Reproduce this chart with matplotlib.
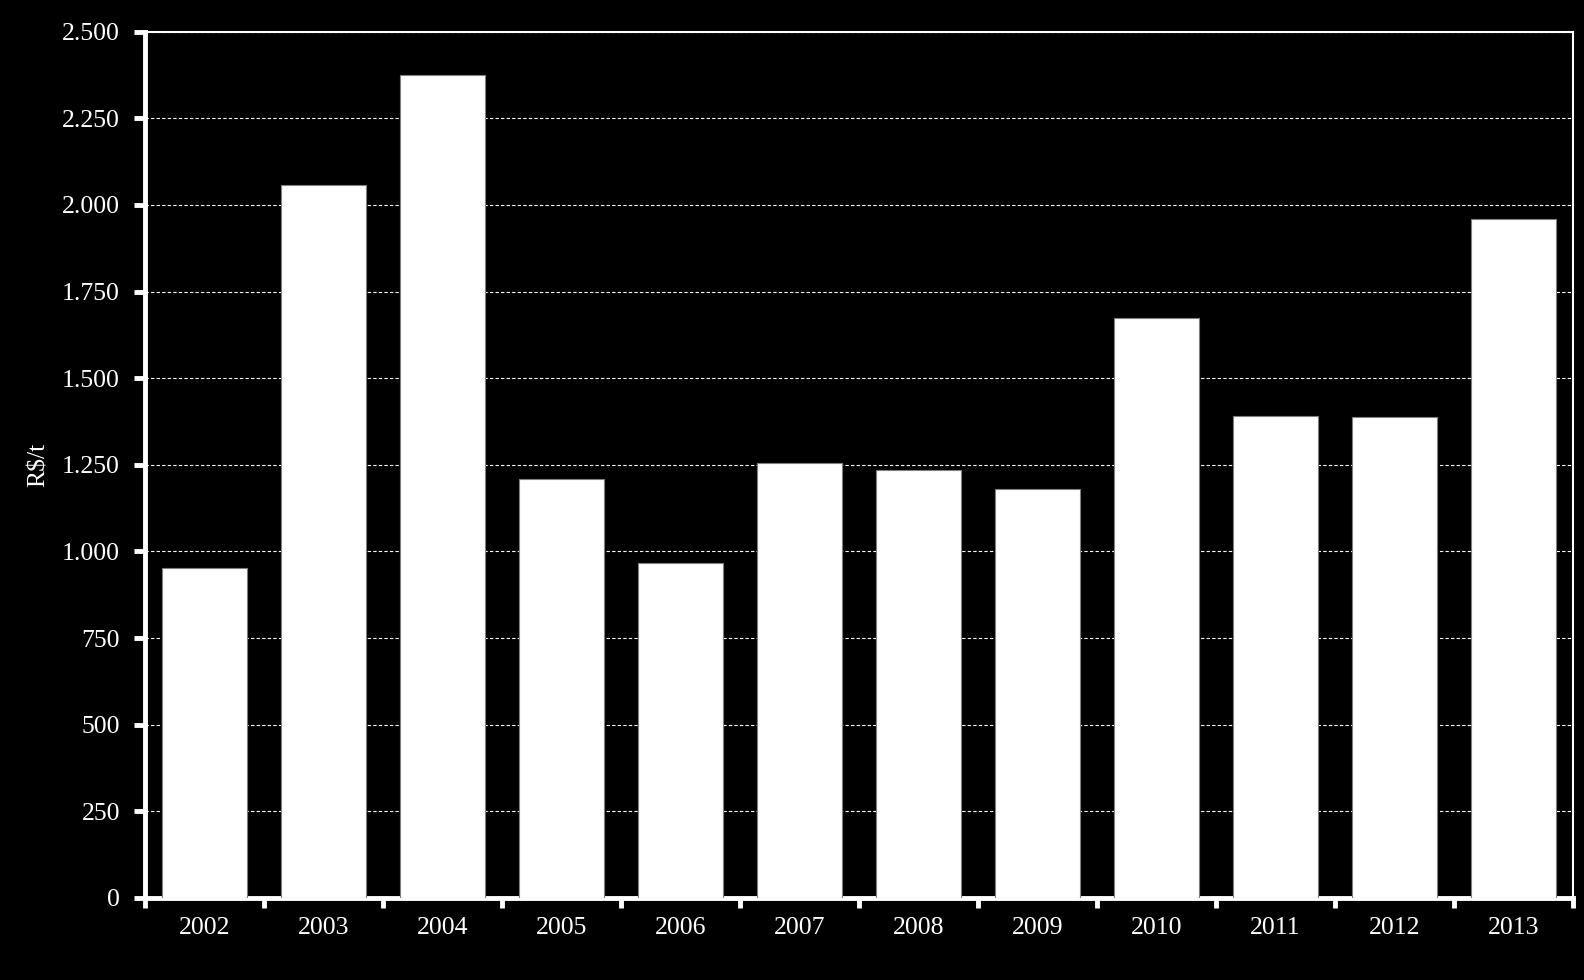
import matplotlib
matplotlib.use("Agg")
import matplotlib.pyplot as plt
from matplotlib.ticker import FuncFormatter, FixedLocator
import numpy as np

years = ["2002", "2003", "2004", "2005", "2006", "2007",
         "2008", "2009", "2010", "2011", "2012", "2013"]
values = [952, 2057, 2375, 1208, 968, 1254, 1234, 1181, 1674, 1391, 1389, 1960]
y_ticks = [0, 250, 500, 750, 1000, 1250, 1500, 1750, 2000, 2250, 2500]

plt.rcParams["font.family"] = ["Liberation Serif", "DejaVu Serif"]

fig = plt.figure(figsize=(15.84, 9.8), dpi=100, facecolor="black")
ax = fig.add_axes([0.0915, 0.0837, 0.9015, 0.884])
ax.set_facecolor("black")

x = np.arange(len(years))
ax.bar(x, values, width=0.71, color="white", edgecolor="#808080",
       linewidth=0.8, zorder=3)

ax.set_xlim(-0.5, len(years) - 0.5)
ax.set_ylim(0, 2500)

ax.set_yticks(y_ticks)
ax.yaxis.set_major_formatter(
    FuncFormatter(lambda v, p: f"{int(v):,}".replace(",", "."))
)
ax.grid(axis="y", color="white", linestyle=(0, (3, 2)), linewidth=0.8, zorder=1)

# labels centred, tick marks on the category boundaries
ax.set_xticks(x)
ax.set_xticklabels(years)
ax.xaxis.set_minor_locator(FixedLocator(np.arange(len(years) + 1) - 0.5))
ax.tick_params(axis="x", which="major", length=0, pad=14,
               colors="white", labelsize=18.5)
ax.tick_params(axis="x", which="minor", length=7, width=3.5,
               color="white", direction="out")
ax.tick_params(axis="y", which="major", length=8, width=3.5,
               color="white", labelcolor="white", labelsize=18.5, pad=10)

ax.set_ylabel("R$/t", color="white", fontsize=18.5, labelpad=9)

for side in ["left", "bottom"]:
    ax.spines[side].set_color("white")
    ax.spines[side].set_linewidth(3.5)
for side in ["top", "right"]:
    ax.spines[side].set_color("white")
    ax.spines[side].set_linewidth(1.5)

fig.savefig("out.png", dpi=100, facecolor="black")
